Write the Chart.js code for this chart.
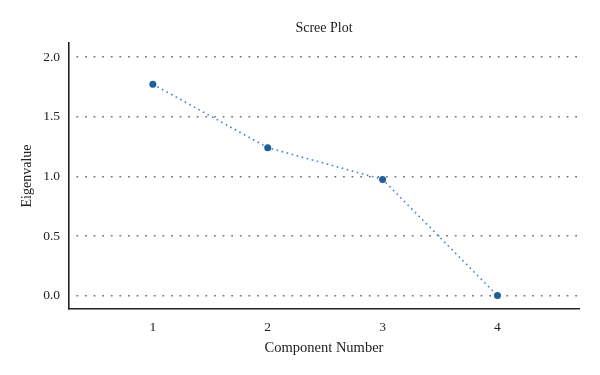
<!DOCTYPE html>
<html>
<head>
<meta charset="utf-8">
<script src="https://cdn.jsdelivr.net/npm/chart.js@4/dist/chart.umd.min.js"></script>
<style>
    html, body { margin: 0; padding: 0; background: #fff; }
    #wrap { width: 600px; height: 375px; position: relative; }
</style>
</head>
<body>
<div id="wrap"><canvas id="scree"></canvas></div>
<script>
// component numbers and eigenvalues
const components = [1, 2, 3, 4];
const eigenvalues = [1.772, 1.241, 0.975, 0.002];
const yTicks = [0, 0.5, 1.0, 1.5, 2.0];

const serif = "'Liberation Serif', 'DejaVu Serif', serif";

const ctx = document.getElementById('scree').getContext('2d');

const chart = new Chart(ctx, {
    type: 'line',
    data: {
        datasets: [{
            label: 'Eigenvalue',
            data: components.map((c, i) => ({ x: c, y: eigenvalues[i] })),
            borderColor: '#4a7fd0',
            borderWidth: 1.6,
            borderDash: [1.6, 3.6],
            pointBackgroundColor: '#1f5f9a',
            pointBorderColor: '#1f5f9a',
            pointRadius: 3.5,
            pointBorderWidth: 0,
            tension: 0,
            fill: false
        }]
    },
    options: {
        responsive: true,
        maintainAspectRatio: false,
        animation: false,
        layout: { padding: { left: 0, right: 21, top: 0, bottom: 0 } },
        plugins: {
            legend: { display: false },
            tooltip: { enabled: false },
            title: { display: false }
        },
        scales: {
            // top axis only carries the chart title, centred over the plot area
            top: {
                type: 'linear',
                position: 'top',
                min: 0.27,
                max: 4.71,
                afterFit: scale => { scale.height = 43; },
                grid: { display: false, drawTicks: false },
                border: { display: false },
                ticks: { display: false },
                title: {
                    display: true,
                    text: 'Scree Plot',
                    color: '#222',
                    font: { family: serif, size: 14 },
                    padding: { top: 20, bottom: 0 }
                }
            },
            x: {
                type: 'linear',
                position: 'bottom',
                min: 0.27,
                max: 4.71,
                afterBuildTicks: scale => {
                    scale.ticks = components.map(v => ({ value: v }));
                },
                afterFit: scale => { scale.height = 66; },
                grid: { display: false, drawTicks: false },
                border: { display: true, color: '#222', width: 1.6 },
                ticks: {
                    color: '#222',
                    padding: 10,
                    font: { family: serif, size: 13.5 },
                    callback: v => String(v)
                },
                title: {
                    display: true,
                    text: 'Component Number',
                    color: '#222',
                    font: { family: serif, size: 14.5 },
                    padding: { top: 0, bottom: 18 }
                }
            },
            y: {
                min: -0.11,
                max: 2.117,
                afterBuildTicks: scale => {
                    scale.ticks = yTicks.map(v => ({ value: v }));
                },
                afterFit: scale => { scale.width = 69; },
                grid: {
                    color: '#777',
                    lineWidth: 1.6,
                    drawTicks: false
                },
                border: { display: true, color: '#222', width: 1.6, dash: [1.8, 6.8], dashOffset: 1.8 },
                ticks: {
                    color: '#222',
                    padding: 9,
                    font: { family: serif, size: 13.5 },
                    callback: v => Number(v).toFixed(1)
                },
                title: {
                    display: true,
                    text: 'Eigenvalue',
                    color: '#222',
                    font: { family: serif, size: 14 },
                    padding: { top: 19, bottom: 0 }
                }
            }
        }
    }
});
</script>
</body>
</html>
